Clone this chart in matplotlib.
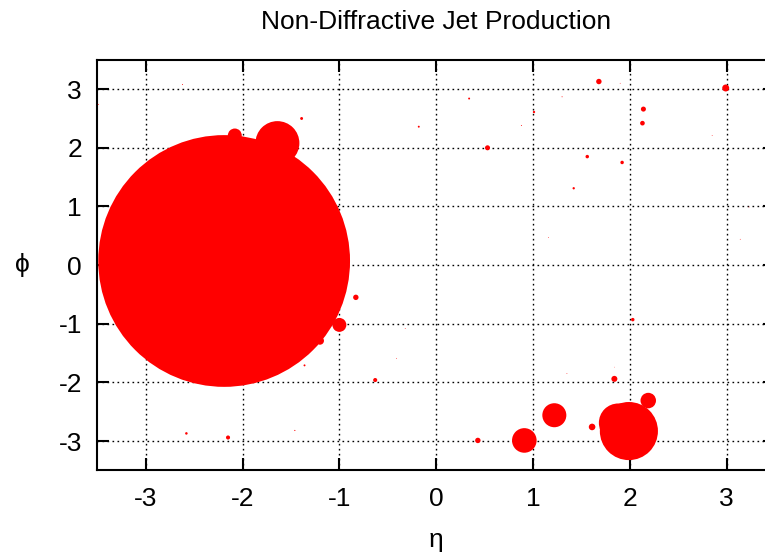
# encoding: utf-8
# Jet map in the eta-phi plane, bubble radius given in eta units
import numpy as np
import matplotlib
matplotlib.use('Agg')
import matplotlib.pyplot as plt

# jet positions (eta, phi) and circle radius in eta units
eta = [-2.19, -1.64, -2.08, -1.39, -0.18, -2.62, -3.49,
       1.68, 2.99, 0.34, 1.30, 1.90, 1.01, 0.88, 2.14, 2.13, 2.85,
       0.53, 1.56, 1.92, 1.42, 1.16, 3.14, 3.23,
       -0.83, -1.00, -1.20, -0.32, -0.41, -1.36, -0.63, -2.58, -2.15, -1.46,
       2.03, 1.84, 1.35, 1.84, 0.43, 0.91, 1.22, 1.61, 2.19, 1.99, 1.88]
phi = [0.07, 2.08, 2.21, 2.50, 2.36, 3.08, 2.74,
       3.13, 3.02, 2.84, 2.87, 3.10, 2.61, 2.38, 2.66, 2.42, 2.21,
       2.00, 1.85, 1.75, 1.31, 0.47, 0.44, 0.99,
       -0.55, -1.02, -1.29, -1.08, -1.59, -1.71, -1.96, -2.87, -2.94, -2.82,
       -0.93, -1.94, -1.85, -1.74, -2.99, -2.99, -2.56, -2.76, -2.31, -2.83, -2.69]
radius = [1.30, 0.227, 0.072, 0.015, 0.010, 0.005, 0.005,
          0.028, 0.036, 0.010, 0.005, 0.004, 0.012, 0.005, 0.026, 0.024, 0.004,
          0.026, 0.018, 0.018, 0.012, 0.004, 0.004, 0.004,
          0.028, 0.072, 0.041, 0.004, 0.004, 0.010, 0.021, 0.013, 0.021, 0.006,
          0.018, 0.031, 0.004, 0.003, 0.028, 0.127, 0.124, 0.034, 0.080, 0.30, 0.20]

ticks = [-3, -2, -1, 0, 1, 2, 3]

plt.rcParams['font.family'] = ['Liberation Sans', 'DejaVu Sans']
plt.rcParams['axes.unicode_minus'] = False

dpi = 100
fig = plt.figure(figsize=(7.65, 5.54), dpi=dpi)
ax = fig.add_axes([0.1272, 0.151, 0.886, 0.741])
ax.set_xlim(-3.5, 3.5)
ax.set_ylim(-3.5, 3.5)

# circle radius is in x units, so convert through the x scale
px_per_unit = ax.get_window_extent().width / 7.0
diam_pt = 2 * np.array(radius) * px_per_unit * 72.0 / dpi
ax.scatter(eta, phi, s=diam_pt ** 2, c='#ff0000', linewidths=0, zorder=3)

ax.set_xticks(ticks)
ax.set_yticks(ticks)
ax.grid(True, color='black', linestyle=(0, (1.2, 2.4)), linewidth=1.0)
ax.set_axisbelow(True)

for s in ax.spines.values():
    s.set_linewidth(1.5)
ax.tick_params(direction='in', length=8.6, width=1.5, top=True, right=True,
               labelsize=19)
ax.tick_params(axis='x', pad=12)
ax.tick_params(axis='y', pad=11)

ax.set_title('Non-Diffractive Jet Production', fontsize=19, pad=22)
ax.set_xlabel('η', fontsize=19, labelpad=12)
ax.set_ylabel('ϕ', fontsize=19, labelpad=26, rotation=0, va='center')

fig.savefig('out.png', dpi=dpi)
